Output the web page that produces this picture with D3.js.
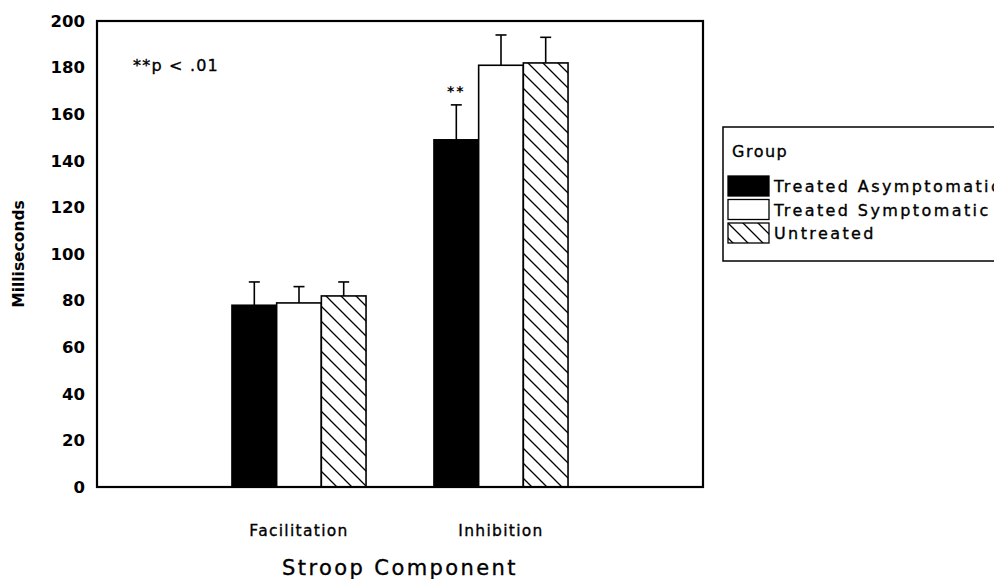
<!DOCTYPE html>
<html>
<head>
<meta charset="utf-8">
<script src="https://cdn.jsdelivr.net/npm/d3@7"></script>
<style>
  body { margin: 0; background: #fff; }
  svg { display: block; font-family: "DejaVu Sans", sans-serif; }
  .heavy { stroke: #000; stroke-width: 0.35px; }
</style>
</head>
<body>
<div id="chart"></div>
<script>
// data
const categories = ["Facilitation", "Inhibition"];
const groups = ["Treated Asymptomatic", "Treated Symptomatic", "Untreated"];
const facilitationMeans = [78, 79, 82];
const facilitationErrors = [10, 7, 6];
const inhibitionMeans = [149, 181, 182];
const inhibitionErrors = [15, 13, 11];
const yTicks = [0, 20, 40, 60, 80, 100, 120, 140, 160, 180, 200];
const significant = [{category: "Inhibition", group: "Treated Asymptomatic", mark: "**"}];

const means = [facilitationMeans, inhibitionMeans];
const errors = [facilitationErrors, inhibitionErrors];

const width = 994, height = 579;
const margin = {top: 21, right: 291, bottom: 92, left: 97};

const svg = d3.select("#chart").append("svg")
    .attr("width", width)
    .attr("height", height);

const defs = svg.append("defs");
const hatch = defs.append("pattern")
    .attr("id", "hatch")
    .attr("patternUnits", "userSpaceOnUse")
    .attr("width", 15)
    .attr("height", 15);
hatch.append("rect").attr("width", 15).attr("height", 15).attr("fill", "#fff");
hatch.append("path")
    .attr("d", "M-4,-4 L19,19 M-4,11 L4,19 M11,-4 L19,4")
    .attr("stroke", "#000")
    .attr("stroke-width", 1.3);

const fills = ["#000", "#fff", "url(#hatch)"];

const y = d3.scaleLinear()
    .domain([0, 200])
    .range([height - margin.bottom, margin.top]);

const x0 = d3.scaleBand()
    .domain(categories)
    .range([margin.left, width - margin.right])
    .paddingInner(0)
    .paddingOuter(0.5);

const x1 = d3.scaleBand()
    .domain(groups)
    .range([0, x0.bandwidth()])
    .paddingInner(0)
    .paddingOuter(0.76);

const rows = [];
categories.forEach((c, i) => {
    groups.forEach((g, j) => {
        rows.push({category: c, group: g, value: means[i][j], err: errors[i][j], fill: fills[j]});
    });
});

// y axis labels
const yAxis = svg.append("g")
    .attr("transform", `translate(${margin.left},0)`)
    .call(d3.axisLeft(y).tickValues(yTicks).tickSize(0).tickPadding(12));
yAxis.select(".domain").remove();
yAxis.selectAll("text")
    .attr("font-family", "DejaVu Sans")
    .attr("font-weight", "bold")
    .attr("font-size", 16.5)
    .attr("fill", "#000");

svg.append("text")
    .attr("transform", `translate(24,${(y(0) + y(200)) / 2}) rotate(-90)`)
    .attr("text-anchor", "middle")
    .attr("font-weight", "bold")
    .attr("font-size", 15.5)
    .text("Milliseconds");

// bars
const bars = svg.append("g");
bars.selectAll("rect")
    .data(rows)
    .join("rect")
    .attr("x", d => x0(d.category) + x1(d.group))
    .attr("y", d => y(d.value))
    .attr("width", x1.bandwidth())
    .attr("height", d => y(0) - y(d.value))
    .attr("fill", d => d.fill)
    .attr("stroke", "#000")
    .attr("stroke-width", 1.6);

// error bars (upper only)
const errG = svg.append("g").attr("stroke", "#000").attr("stroke-width", 1.6);
errG.selectAll(".stem")
    .data(rows)
    .join("line")
    .attr("class", "stem")
    .attr("x1", d => x0(d.category) + x1(d.group) + x1.bandwidth() / 2)
    .attr("x2", d => x0(d.category) + x1(d.group) + x1.bandwidth() / 2)
    .attr("y1", d => y(d.value))
    .attr("y2", d => y(d.value + d.err));
errG.selectAll(".cap")
    .data(rows)
    .join("line")
    .attr("class", "cap")
    .attr("x1", d => x0(d.category) + x1(d.group) + x1.bandwidth() / 2 - 5.5)
    .attr("x2", d => x0(d.category) + x1(d.group) + x1.bandwidth() / 2 + 5.5)
    .attr("y1", d => y(d.value + d.err))
    .attr("y2", d => y(d.value + d.err));

// significance marks
svg.selectAll(".sig")
    .data(significant)
    .join("text")
    .attr("class", "sig")
    .attr("x", d => x0(d.category) + x1(d.group) + x1.bandwidth() / 2)
    .attr("y", d => {
        const r = rows.find(r => r.category === d.category && r.group === d.group);
        return y(r.value + r.err) - 9;
    })
    .attr("text-anchor", "middle")
    .attr("font-size", 14)
    .attr("font-weight", "bold")
    .attr("letter-spacing", 2)
    .text(d => d.mark);

// frame
svg.append("rect")
    .attr("x", margin.left)
    .attr("y", y(200))
    .attr("width", width - margin.right - margin.left)
    .attr("height", y(0) - y(200))
    .attr("fill", "none")
    .attr("stroke", "#000")
    .attr("stroke-width", 2.2);

svg.append("text")
    .attr("class", "heavy")
    .attr("x", 133)
    .attr("y", 71)
    .attr("font-size", 16)
    .attr("letter-spacing", 1.2)
    .text("**p < .01");

// category labels
svg.selectAll(".cat")
    .data(categories)
    .join("text")
    .attr("class", "cat heavy")
    .attr("x", d => x0(d) + x0.bandwidth() / 2)
    .attr("y", 536)
    .attr("text-anchor", "middle")
    .attr("font-size", 15.5)
    .attr("letter-spacing", 1.3)
    .text(d => d);

svg.append("text")
    .attr("class", "heavy")
    .attr("x", (margin.left + width - margin.right) / 2)
    .attr("y", 575)
    .attr("text-anchor", "middle")
    .attr("font-size", 21)
    .attr("letter-spacing", 2.4)
    .text("Stroop Component");

// legend (runs past the right edge, as in the figure)
const legend = svg.append("g").attr("transform", "translate(723,127)");
legend.append("rect")
    .attr("width", 300)
    .attr("height", 134)
    .attr("fill", "#fff")
    .attr("stroke", "#000")
    .attr("stroke-width", 1.5);
legend.append("text")
    .attr("class", "heavy")
    .attr("x", 9)
    .attr("y", 30)
    .attr("font-size", 16)
    .attr("letter-spacing", 1.5)
    .text("Group");
const item = legend.selectAll(".item")
    .data(groups)
    .join("g")
    .attr("class", "item")
    .attr("transform", (d, i) => `translate(5,${49 + i * 23.5})`);
item.append("rect")
    .attr("width", 41)
    .attr("height", 20)
    .attr("fill", (d, i) => fills[i])
    .attr("stroke", "#000")
    .attr("stroke-width", 1.3);
item.append("text")
    .attr("class", "heavy")
    .attr("x", 46)
    .attr("y", 16)
    .attr("font-size", 16)
    .attr("letter-spacing", 2.4)
    .text(d => d);
</script>
</body>
</html>
